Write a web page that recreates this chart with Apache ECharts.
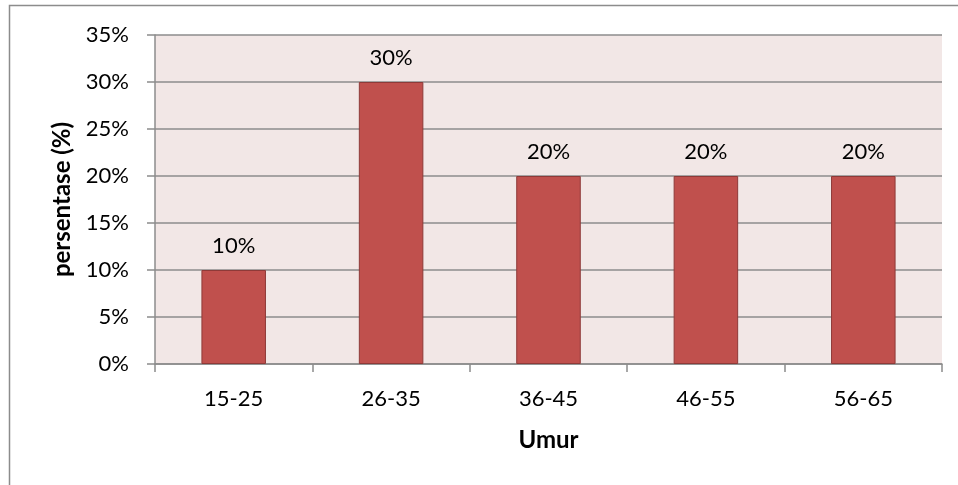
<!DOCTYPE html>
<html>
<head>
<meta charset="utf-8">
<script src="https://cdn.jsdelivr.net/npm/echarts@6/dist/echarts.min.js"></script>
<style>
  html, body { margin: 0; padding: 0; background: #fff; }
  #chart { width: 958px; height: 485px; }
</style>
</head>
<body>
<div id="chart"></div>
<script>
// Age groups and share of respondents (%)
const categories = ['15-25', '26-35', '36-45', '46-55', '56-65'];
const values = [10, 30, 20, 20, 20];
const yTicks = { min: 0, max: 35, interval: 5 };

const FONT = 'Lato, "Open Sans", sans-serif';
const chart = echarts.init(document.getElementById('chart'), null, { renderer: 'canvas' });

chart.setOption({
  animation: false,
  backgroundColor: '#ffffff',
  graphic: [{
    type: 'rect',
    shape: { x: 9.5, y: 5.5, width: 1000, height: 1000 },
    style: { fill: 'none', stroke: '#8c8c8c', lineWidth: 1.5 },
    z: -1
  }],
  grid: {
    left: 155, top: 35, right: 16, bottom: 121,
    show: true, backgroundColor: '#f2e7e6', borderWidth: 0
  },
  xAxis: {
    type: 'category',
    data: categories,
    name: 'Umur',
    nameLocation: 'middle',
    nameGap: 64,
    nameTextStyle: { fontFamily: FONT, fontSize: 24, fontWeight: 'bold', color: '#000' },
    axisLine: { lineStyle: { color: '#8c8c8c', width: 1.5 } },
    axisTick: { show: true, length: 8, alignWithLabel: false, lineStyle: { color: '#8c8c8c', width: 1.5 } },
    axisLabel: { fontFamily: FONT, fontSize: 22, color: '#000', margin: 24 }
  },
  yAxis: {
    type: 'value',
    min: yTicks.min, max: yTicks.max, interval: yTicks.interval,
    name: 'persentase (%)',
    nameLocation: 'middle',
    nameGap: 81,
    nameTextStyle: { fontFamily: FONT, fontSize: 24, fontWeight: 'bold', color: '#000' },
    axisLine: { show: true, lineStyle: { color: '#8c8c8c', width: 1.5 } },
    axisTick: { show: true, length: 8, lineStyle: { color: '#8c8c8c', width: 1.5 } },
    axisLabel: { fontFamily: FONT, fontSize: 22, color: '#000', margin: 26, formatter: '{value}%' },
    splitLine: { show: true, lineStyle: { color: '#8c8c8c', width: 1.5 } }
  },
  series: [{
    type: 'bar',
    data: values,
    barWidth: '41%',
    itemStyle: { color: '#c0504d', borderColor: '#8e3a38', borderWidth: 1 },
    label: {
      show: true, position: 'top', distance: 13,
      fontFamily: FONT, fontSize: 22, color: '#000',
      formatter: p => p.value + '%'
    }
  }]
});
</script>
</body>
</html>
